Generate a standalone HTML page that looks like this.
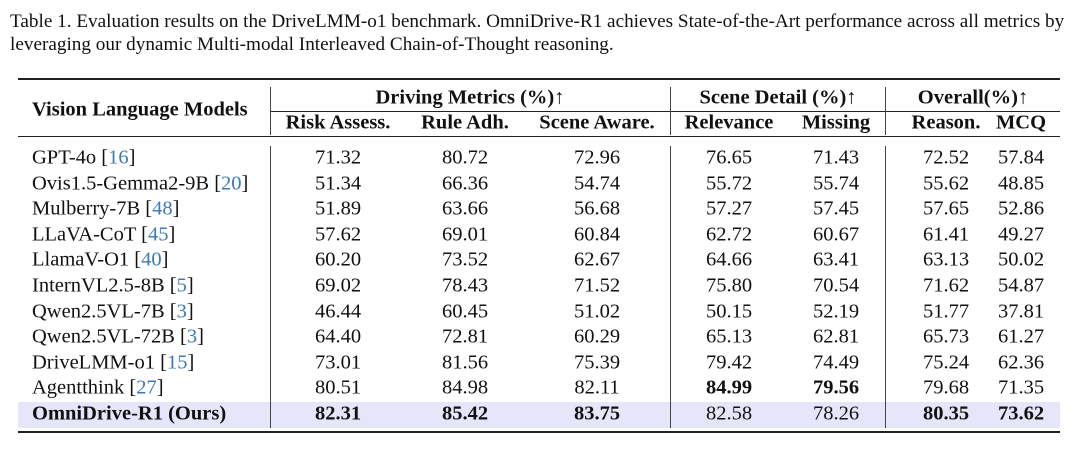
<!DOCTYPE html>
<html><head><meta charset="utf-8"><style>
body{margin:0;width:1080px;height:449px;background:#fff;position:relative;font-family:"Liberation Serif",serif;color:#111;overflow:hidden}
.cap{position:absolute;left:10px;font-size:19.2px;white-space:nowrap;line-height:22px}
.h{position:absolute;height:0;border-top:2px solid #222}
.v{position:absolute;width:0;border-left:1px solid #444}
.t{position:absolute;font-size:20.5px;white-space:nowrap;transform:translate(-50%,-50%)}
.l{position:absolute;font-size:20.5px;white-space:nowrap;transform:translateY(-50%);left:32px}
.b{font-weight:bold}
.r{color:#3a7ab8}
</style></head><body>
<div class="cap" style="top:11px">Table 1. Evaluation results on the DriveLMM-o1 benchmark. OmniDrive-R1 achieves State-of-the-Art performance across all metrics by</div>
<div class="cap" style="top:34px">leveraging our dynamic Multi-modal Interleaved Chain-of-Thought reasoning.</div>
<div style="position:absolute;left:18px;top:402px;width:1042px;height:26px;background:#e6e6fa"></div>
<div class="h" style="left:18px;width:1042px;top:78px"></div>
<div class="h" style="left:18px;width:1042px;top:136px;border-top-width:1.5px"></div>
<div class="h" style="left:18px;width:1042px;top:431px"></div>
<div class="h" style="left:270px;width:790px;top:111px;border-top-width:1px"></div>
<div class="v" style="left:270px;top:87px;height:48px"></div>
<div class="v" style="left:670px;top:87px;height:48px"></div>
<div class="v" style="left:885px;top:87px;height:48px"></div>
<div class="v" style="left:270px;top:146px;height:282px"></div>
<div class="v" style="left:670px;top:146px;height:282px"></div>
<div class="v" style="left:885px;top:146px;height:282px"></div>
<div class="l b" style="top:110px">Vision Language Models</div>
<div class="t b" style="left:470px;top:98px">Driving Metrics (%)↑</div>
<div class="t b" style="left:778px;top:98px">Scene Detail (%)↑</div>
<div class="t b" style="left:973px;top:98px">Overall(%)↑</div>
<div class="t b" style="left:338px;top:123px">Risk Assess.</div>
<div class="t b" style="left:465px;top:123px">Rule Adh.</div>
<div class="t b" style="left:597px;top:123px">Scene Aware.</div>
<div class="t b" style="left:729px;top:123px">Relevance</div>
<div class="t b" style="left:836px;top:123px">Missing</div>
<div class="t b" style="left:946px;top:123px">Reason.</div>
<div class="t b" style="left:1021px;top:123px">MCQ</div>
<div id="rows"></div>
<script>
var d=[["GPT-4o ","16",["71.32","80.72","72.96","76.65","71.43","72.52","57.84"]],
["Ovis1.5-Gemma2-9B ","20",["51.34","66.36","54.74","55.72","55.74","55.62","48.85"]],
["Mulberry-7B ","48",["51.89","63.66","56.68","57.27","57.45","57.65","52.86"]],
["LLaVA-CoT ","45",["57.62","69.01","60.84","62.72","60.67","61.41","49.27"]],
["LlamaV-O1 ","40",["60.20","73.52","62.67","64.66","63.41","63.13","50.02"]],
["InternVL2.5-8B ","5",["69.02","78.43","71.52","75.80","70.54","71.62","54.87"]],
["Qwen2.5VL-7B ","3",["46.44","60.45","51.02","50.15","52.19","51.77","37.81"]],
["Qwen2.5VL-72B ","3",["64.40","72.81","60.29","65.13","62.81","65.73","61.27"]],
["DriveLMM-o1 ","15",["73.01","81.56","75.39","79.42","74.49","75.24","62.36"]],
["Agentthink ","27",["80.51","84.98","82.11","84.99","79.56","79.68","71.35"]],
["OmniDrive-R1 (Ours)","",["82.31","85.42","83.75","82.58","78.26","80.35","73.62"]]];
var xs=[338,465,597,729,836,946,1021],h="";
d.forEach(function(r,i){var y=158+i*25.6;
h+='<div class="l'+(i==10?' b':'')+'" style="top:'+y+'px">'+r[0]+(r[1]?'[<span class="r">'+r[1]+'</span>]':'')+'</div>';
r[2].forEach(function(v,j){var b=(i==10&&[0,1,2,5,6].indexOf(j)>=0)||(i==9&&(j==3||j==4));
h+='<div class="t'+(b?' b':'')+'" style="left:'+xs[j]+'px;top:'+y+'px">'+v+'</div>';});});
document.getElementById("rows").innerHTML=h;
</script>
</body></html>
